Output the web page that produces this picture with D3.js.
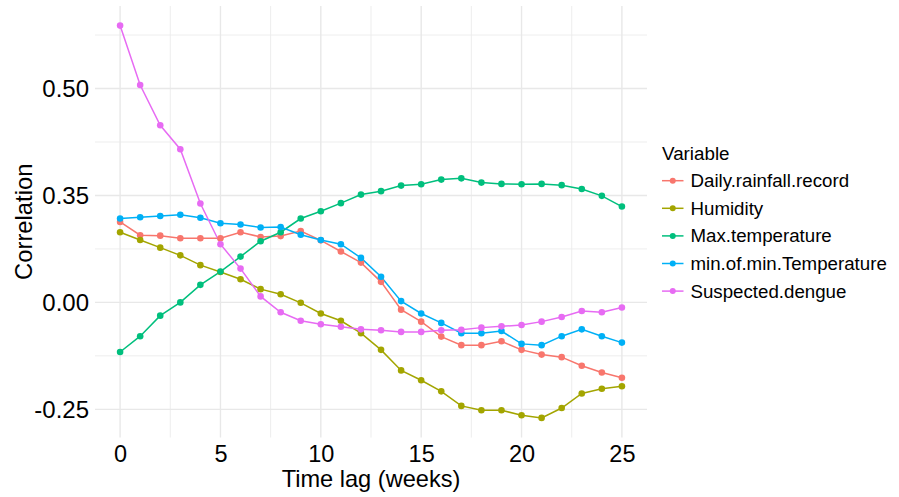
<!DOCTYPE html>
<html>
<head>
<meta charset="utf-8">
<script src="https://cdn.jsdelivr.net/npm/d3@7"></script>
<style>
  body { margin: 0; background: #fff; }
  svg text { font-family: "Liberation Sans", Arial, Helvetica, sans-serif; fill: #000; }
</style>
</head>
<body>
<svg id="chart"></svg>
<script>
// lags 0..25 weeks
const lags = d3.range(0, 26);

const variables = ["Daily.rainfall.record", "Humidity", "Max.temperature", "min.of.min.Temperature", "Suspected.dengue"];
const colors = ["#F8766D", "#A3A500", "#00BF7D", "#00B0F6", "#E76BF3"];

const rainfall = [0.188, 0.157, 0.156, 0.150, 0.150, 0.150, 0.164, 0.153, 0.155, 0.167, 0.145, 0.119, 0.093,
  0.048, -0.017, -0.045, -0.080, -0.100, -0.100, -0.091, -0.111, -0.122, -0.128, -0.148, -0.164, -0.176];
const humidity = [0.164, 0.146, 0.128, 0.110, 0.087, 0.071, 0.054, 0.031, 0.019, -0.001, -0.026, -0.043, -0.072,
  -0.111, -0.159, -0.182, -0.208, -0.242, -0.252, -0.252, -0.264, -0.270, -0.247, -0.213, -0.202, -0.196];
const maxTemp = [-0.116, -0.079, -0.031, 0.000, 0.041, 0.072, 0.107, 0.143, 0.164, 0.196, 0.213, 0.232, 0.252,
  0.260, 0.273, 0.276, 0.287, 0.290, 0.280, 0.277, 0.276, 0.277, 0.274, 0.265, 0.249, 0.224];
const minTemp = [0.196, 0.199, 0.202, 0.205, 0.198, 0.185, 0.182, 0.175, 0.176, 0.158, 0.146, 0.136, 0.104,
  0.060, 0.003, -0.026, -0.048, -0.072, -0.072, -0.067, -0.097, -0.100, -0.079, -0.063, -0.079, -0.094];
const dengue = [0.647, 0.508, 0.414, 0.358, 0.231, 0.136, 0.079, 0.014, -0.023, -0.043, -0.051, -0.057, -0.063,
  -0.065, -0.069, -0.069, -0.065, -0.064, -0.059, -0.056, -0.053, -0.045, -0.034, -0.020, -0.023, -0.012];

const xTicks = [0, 5, 10, 15, 20, 25];
const xMinor = [2.5, 7.5, 12.5, 17.5, 22.5];
const yTicks = [-0.25, 0, 0.25, 0.5];
const yTickLabels = ["-0.25", "0.00", "0.35", "0.50"];
const yMinor = [-0.125, 0.125, 0.375, 0.625];

const seriesValues = [rainfall, humidity, maxTemp, minTemp, dengue];
const series = variables.map((name, i) => ({
  name: name,
  color: colors[i],
  values: lags.map((lag, j) => ({ lag: lag, r: seriesValues[i][j] }))
}));

const width = 899, height = 497;
const panel = { left: 95, right: 647, top: 6, bottom: 437.5 };

const svg = d3.select("#chart").attr("width", width).attr("height", height);

// ggplot style 5% expansion
const xExt = d3.extent(lags), yExt = d3.extent(seriesValues.flat());
const xPad = (xExt[1] - xExt[0]) * 0.05, yPad = (yExt[1] - yExt[0]) * 0.05;

const x = d3.scaleLinear().domain([xExt[0] - xPad, xExt[1] + xPad]).range([panel.left, panel.right]);
const y = d3.scaleLinear().domain([yExt[0] - yPad, yExt[1] + yPad]).range([panel.bottom, panel.top]);

// grid
const grid = svg.append("g");
grid.selectAll(".ymin").data(yMinor).enter().append("line")
  .attr("x1", panel.left).attr("x2", panel.right)
  .attr("y1", d => y(d)).attr("y2", d => y(d))
  .attr("stroke", "#ebebeb").attr("stroke-width", 0.9);
grid.selectAll(".xmin").data(xMinor).enter().append("line")
  .attr("y1", panel.top).attr("y2", panel.bottom)
  .attr("x1", d => x(d)).attr("x2", d => x(d))
  .attr("stroke", "#ebebeb").attr("stroke-width", 0.9);
grid.selectAll(".ymaj").data(yTicks).enter().append("line")
  .attr("x1", panel.left).attr("x2", panel.right)
  .attr("y1", d => y(d)).attr("y2", d => y(d))
  .attr("stroke", "#e8e8e8").attr("stroke-width", 1.4);
grid.selectAll(".xmaj").data(xTicks).enter().append("line")
  .attr("y1", panel.top).attr("y2", panel.bottom)
  .attr("x1", d => x(d)).attr("x2", d => x(d))
  .attr("stroke", "#e8e8e8").attr("stroke-width", 1.4);

// axes (labels only, like theme_minimal)
const xAxis = svg.append("g")
  .attr("transform", `translate(0,${panel.bottom})`)
  .call(d3.axisBottom(x).tickValues(xTicks).tickSize(0).tickPadding(7.5));
xAxis.select(".domain").remove();
xAxis.selectAll("text").style("font-size", "23.5px").attr("fill", "#000");

const yAxis = svg.append("g")
  .attr("transform", `translate(${panel.left},0)`)
  .call(d3.axisLeft(y).tickValues(yTicks).tickSize(0).tickPadding(6)
    .tickFormat((d, i) => yTickLabels[i]));
yAxis.select(".domain").remove();
yAxis.selectAll("text").style("font-size", "24px").attr("fill", "#000");

svg.append("text")
  .attr("x", (panel.left + panel.right) / 2).attr("y", 487)
  .attr("text-anchor", "middle").style("font-size", "23.6px")
  .text("Time lag (weeks)");

svg.append("text")
  .attr("transform", `translate(32,${(panel.top + panel.bottom) / 2}) rotate(-90)`)
  .attr("text-anchor", "middle").style("font-size", "23.8px")
  .text("Correlation");

// lines then points
const line = d3.line().x(d => x(d.lag)).y(d => y(d.r));

svg.append("g").selectAll("path").data(series).enter().append("path")
  .attr("d", d => line(d.values))
  .attr("fill", "none")
  .attr("stroke", d => d.color)
  .attr("stroke-width", 1.5);

svg.append("g").selectAll("g").data(series).enter().append("g")
  .attr("fill", d => d.color)
  .selectAll("circle").data(d => d.values).enter().append("circle")
  .attr("cx", d => x(d.lag))
  .attr("cy", d => y(d.r))
  .attr("r", 3.3);

// legend
const legend = svg.append("g").attr("transform", "translate(662,0)");
legend.append("text").attr("x", 0).attr("y", 160).style("font-size", "18.8px").text("Variable");

const item = legend.selectAll(".item").data(series).enter().append("g")
  .attr("transform", (d, i) => `translate(0,${180.7 + i * 27.6})`);
item.append("line").attr("x1", 0).attr("x2", 21.5)
  .attr("stroke", d => d.color).attr("stroke-width", 1.5);
item.append("circle").attr("cx", 10.75).attr("r", 3).attr("fill", d => d.color);
item.append("text").attr("x", 28.5).attr("dy", "0.35em")
  .style("font-size", "18.7px").text(d => d.name);
</script>
</body>
</html>
